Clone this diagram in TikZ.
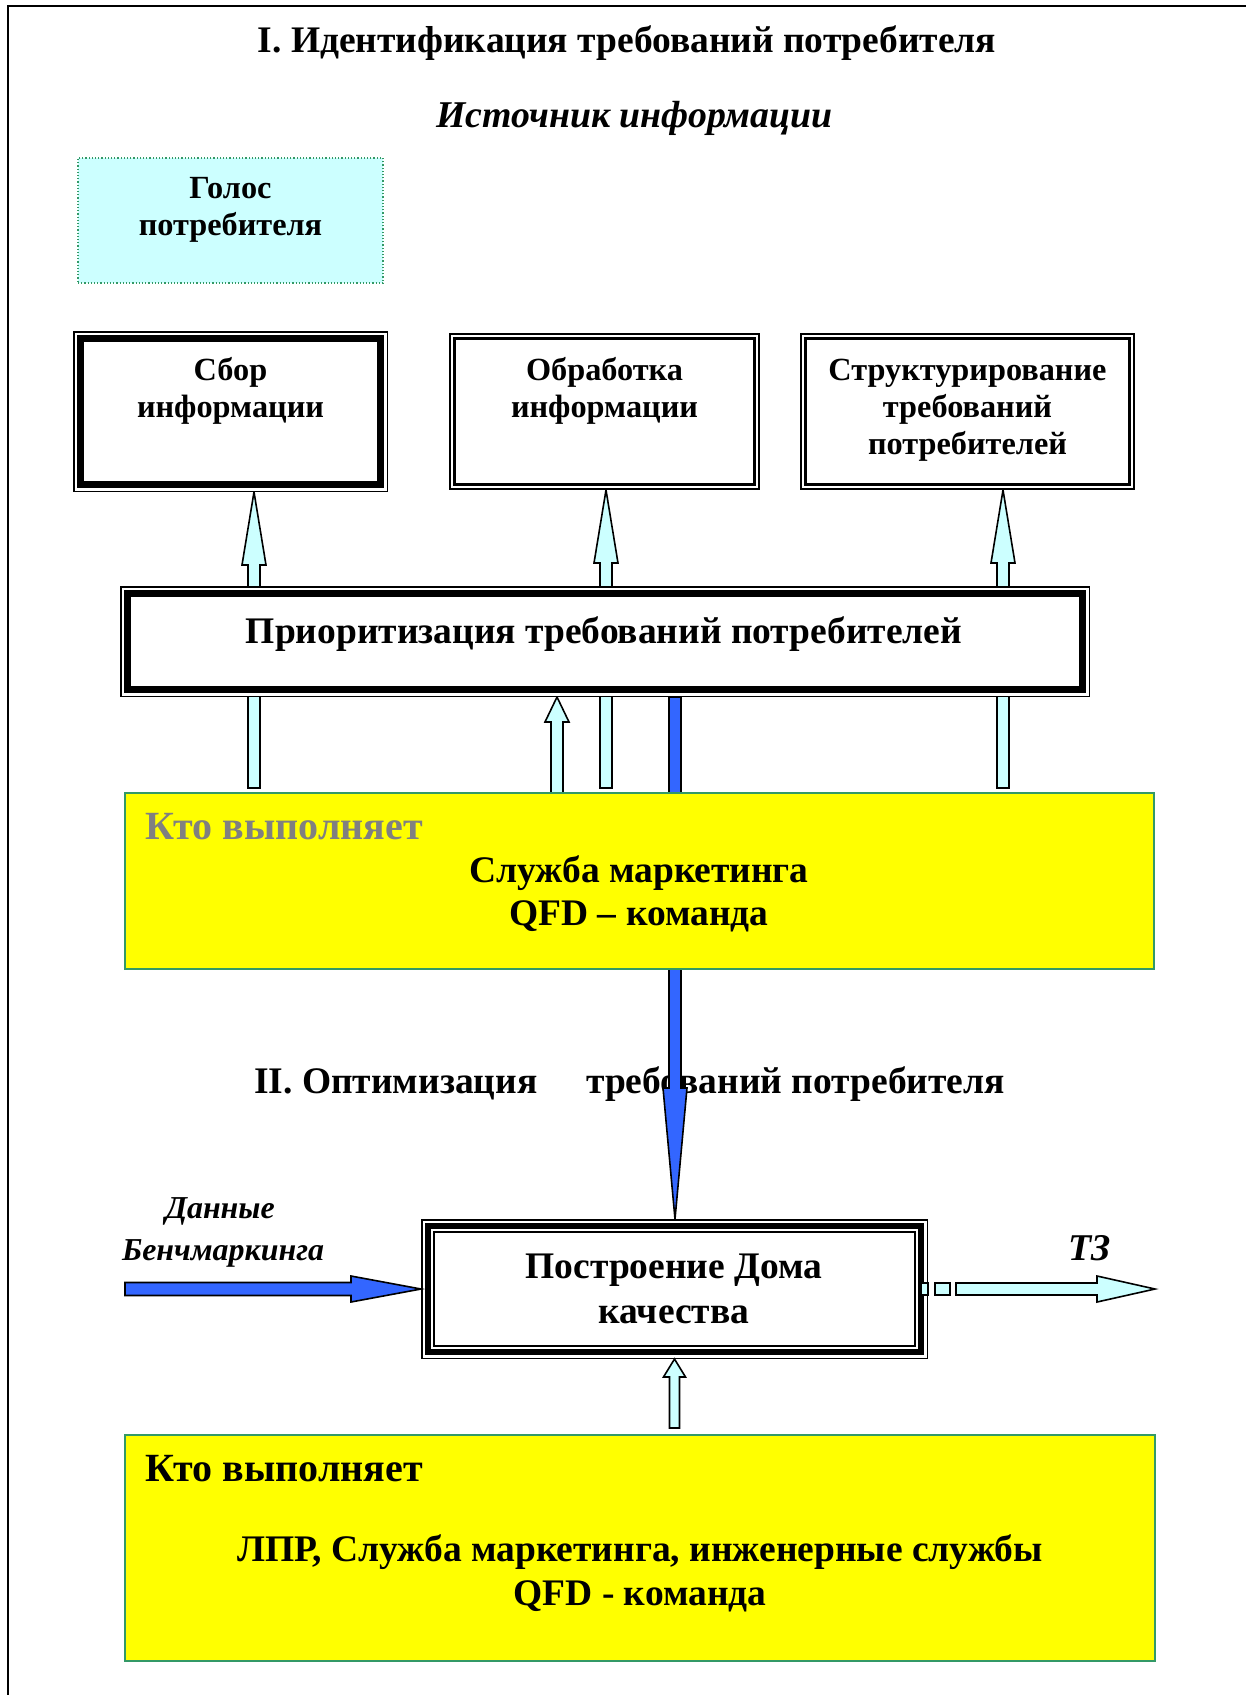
\documentclass[tikz,border=0pt]{standalone}
\usepackage{fontspec}
\setmainfont{Liberation Serif}
\usetikzlibrary{calc}
\definecolor{lcyan}{HTML}{CCFFFF}
\definecolor{aBlue}{HTML}{3366FF}
\definecolor{yel}{HTML}{FFFF00}
\definecolor{grn}{HTML}{339966}
\definecolor{gry}{HTML}{808080}
\pgfdeclarelayer{bottom}
\pgfdeclarelayer{back}
\pgfsetlayers{bottom,back,main}
\newcommand\frameat[3]{\draw[line width=#3pt] ($(#1.north west)+(#2,#2)$) rectangle ($(#1.south east)+(-#2,-#2)$);}
\newcommand\vblock[6]{\draw[#1] let \p1=(#2), \p2=(#3), \n1={sign(\y2-\y1)} in
 (\x2-#4pt,\y1) -- (\x2-#4pt,\y2-\n1*#6pt) -- (\x2-#5pt,\y2-\n1*#6pt) -- (\x2,\y2) -- (\x2+#5pt,\y2-\n1*#6pt) -- (\x2+#4pt,\y2-\n1*#6pt) -- (\x2+#4pt,\y1) -- cycle;}
\newcommand\hblock[6]{\draw[#1] let \p1=(#2), \p2=(#3), \n1={sign(\x2-\x1)} in
 (\x1,\y2-#4pt) -- (\x2-\n1*#6pt,\y2-#4pt) -- (\x2-\n1*#6pt,\y2-#5pt) -- (\x2,\y2) -- (\x2-\n1*#6pt,\y2+#5pt) -- (\x2-\n1*#6pt,\y2+#4pt) -- (\x1,\y2+#4pt) -- cycle;}
\tikzset{
 box/.style={draw=none, fill=white, inner sep=0pt, outer sep=0pt},
 ybox/.style={draw=grn, line width=2pt, fill=yel, inner sep=0pt, outer sep=0pt},
 bt/.style={font=\bfseries\fontsize{32.3}{38}\selectfont, anchor=base, inner sep=0pt},
 big/.style={font=\bfseries\fontsize{37.5}{44}\selectfont, anchor=base, inner sep=0pt},
 who/.style={font=\bfseries\fontsize{40}{46}\selectfont, anchor=base west, inner sep=0pt},
 bigit/.style={font=\bfseries\itshape\fontsize{37.8}{44}\selectfont, anchor=base, inner sep=0pt},
 smit/.style={font=\bfseries\itshape\fontsize{31.9}{38}\selectfont, anchor=base, inner sep=0pt},
 arrC/.style={fill=lcyan, draw=black, line width=1.6pt, line join=miter},
 arrB/.style={fill=aBlue, draw=black, line width=1.6pt, line join=miter},
}
\begin{document}
\begin{tikzpicture}[x=1pt,y=-1pt]
\useasboundingbox (0,0) rectangle (1246,1695);
\begin{pgfonlayer}{bottom}
\fill[white] (0,0) rectangle (1246,1695);
\draw[line width=2pt] (8,1695) -- (8,6) -- (1246,6);
\node[big, anchor=base west] (sec2a) at (254,1093) {II. Оптимизация};
\node[big, anchor=base west] (sec2b) at (586,1093) {требований потребителя};
\end{pgfonlayer}

% titles
\node[big] (title) at (627,52) {I. Идентификация требований потребителя};
\node[bigit] (source) at (634.5,127) {Источник информации};

% voice of customer
\node[draw=grn, dotted, line width=1.2pt, fill=lcyan, inner sep=0pt, outer sep=0pt,
      minimum width=305pt, minimum height=125pt] (golos) at (230.5,220.5) {};
\node[bt] (golos1) at (230.5,198) {Голос};
\node[bt] (golos2) at (230.5,235) {потребителя};

% top boxes
\node[box, minimum width=315pt, minimum height=161pt] (sbor) at (230.5,411.5) {};
\frameat{sbor}{0.75}{1.5}\frameat{sbor}{7.5}{7}
\node[bt] (sbor1) at (230.5,380) {Сбор};
\node[bt] (sbor2) at (230.5,417) {информации};

\node[box, minimum width=311pt, minimum height=157pt] (obr) at (604.5,411.5) {};
\frameat{obr}{0.9}{1.8}\frameat{obr}{5.5}{2.2}
\node[bt] (obr1) at (604.5,380) {Обработка};
\node[bt] (obr2) at (604.5,417) {информации};

\node[box, minimum width=335pt, minimum height=157pt] (str) at (967.5,411.5) {};
\frameat{str}{0.9}{1.8}\frameat{str}{5.5}{2.2}
\node[bt] (str1) at (967.5,380) {Структурирование};
\node[bt] (str2) at (967.5,417) {требований};
\node[bt] (str3) at (967.5,454) {потребителей};

% prioritisation
\node[box, minimum width=970pt, minimum height=111pt] (prio) at (605,641.5) {};
\frameat{prio}{0.75}{1.5}\frameat{prio}{7.5}{7}
\node[big] (prio1) at (604,643) {Приоритизация требований потребителей};

% who does (1)
\node[ybox, minimum width=1029pt, minimum height=176pt] (kto1) at (639.5,881) {};
\node[who, text=gry] (kto1a) at (145.6,839) {Кто выполняет};
\node[big] (kto1b) at (639,882) {Служба маркетинга};
\node[big] (kto1c) at (639,925) {QFD – команда};

% house of quality
\node[box, minimum width=507pt, minimum height=140pt] (postr) at (674.5,1289) {};
\frameat{postr}{0.75}{1.5}\frameat{postr}{7}{5.5}\frameat{postr}{12.8}{1.6}
\node[big] (postr1) at (674,1278) {Построение Дома};
\node[big] (postr2) at (674,1323) {качества};

\node[smit] (bench1) at (220,1218) {Данные};
\node[smit] (bench2) at (223,1260) {Бенчмаркинга};
\node[bigit] (tz) at (1090,1260) {ТЗ};

% who does (2)
\node[ybox, minimum width=1030pt, minimum height=226pt] (kto2) at (640,1548) {};
\node[who] (kto2a) at (145.5,1481) {Кто выполняет};
\node[big] (kto2b) at (640,1561) {ЛПР, Служба маркетинга, инженерные службы};
\node[big] (kto2c) at (640,1605) {QFD - команда};

% connector coordinates
\coordinate (a1s) at ($(254,0 |- kto1.north)+(0,-5)$);
\coordinate (a1e) at (254,0 |- sbor.south);
\coordinate (a2s) at ($(606,0 |- kto1.north)+(0,-5)$);
\coordinate (a2e) at (606,0 |- obr.south);
\coordinate (a3s) at ($(1003,0 |- kto1.north)+(0,-5)$);
\coordinate (a3e) at (1003,0 |- str.south);
\coordinate (a4s) at (557,0 |- kto1.north);
\coordinate (a4e) at (557,0 |- prio.south);
\coordinate (bvs) at (675,0 |- prio.south);
\coordinate (bve) at (675,0 |- postr.north);
\coordinate (bhs) at (125,0 |- postr.west);
\coordinate (ups) at ($(postr.south |- kto2.north)+(0,-7)$);
\coordinate (tzs) at ($(postr.east)+(28,0)$);
\coordinate (tze) at (1155,0 |- postr.east);

\begin{pgfonlayer}{back}
\vblock{arrC}{a1s}{a1e}{6}{12}{73}
\vblock{arrC}{a2s}{a2e}{6}{12}{73}
\vblock{arrC}{a3s}{a3e}{6}{12}{73}
\vblock{arrC}{a4s}{a4e}{6}{12}{25}
\vblock{arrB}{bvs}{bve}{6}{12}{131}
\end{pgfonlayer}

\hblock{arrB}{bhs}{postr.west}{6.5}{13}{70}
\vblock{arrC}{ups}{postr.south}{5}{11}{18}
\draw[arrC] ($(postr.east)+(-7,-6)$) rectangle ($(postr.east)+(0,6)$);
\draw[arrC] ($(postr.east)+(7,-6)$) rectangle ($(postr.east)+(22,6)$);
\hblock{arrC}{tzs}{tze}{6}{13}{58}
\end{tikzpicture}
\end{document}
